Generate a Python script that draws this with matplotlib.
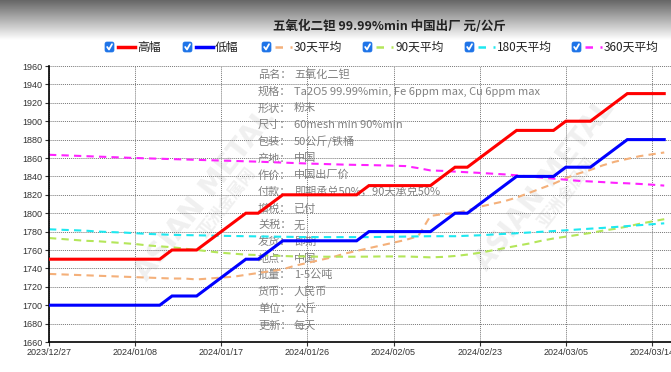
import numpy as np
import matplotlib
matplotlib.use("Agg")
import matplotlib.pyplot as plt
from matplotlib.patches import FancyBboxPatch

CJK = ["Noto Sans CJK SC", "DejaVu Sans"]

# x tick labels (every 7th point)
date_labels = ["2023/12/27", "2024/01/08", "2024/01/17", "2024/01/26",
               "2024/02/05", "2024/02/23", "2024/03/05", "2024/03/14"]

high = [1750, 1750, 1750, 1750, 1750, 1750, 1750, 1750, 1750, 1750,
        1760, 1760, 1760, 1770, 1780, 1790, 1800, 1800, 1810, 1820,
        1820, 1820, 1820, 1820, 1820, 1820, 1830, 1830, 1830, 1830,
        1830, 1830, 1840, 1850, 1850, 1860, 1870, 1880, 1890, 1890,
        1890, 1890, 1900, 1900, 1900, 1910, 1920, 1930, 1930, 1930, 1930]
low = [1700, 1700, 1700, 1700, 1700, 1700, 1700, 1700, 1700, 1700,
       1710, 1710, 1710, 1720, 1730, 1740, 1750, 1750, 1760, 1770,
       1770, 1770, 1770, 1770, 1770, 1770, 1780, 1780, 1780, 1780,
       1780, 1780, 1790, 1800, 1800, 1810, 1820, 1830, 1840, 1840,
       1840, 1840, 1850, 1850, 1850, 1860, 1870, 1880, 1880, 1880, 1880]
ma30 = [1734, 1733.5, 1733, 1732.5, 1732, 1731.5, 1731, 1730.5, 1730, 1729.5,
        1729, 1729, 1728, 1729, 1730, 1731, 1733, 1735, 1737, 1739,
        1743, 1746, 1749, 1752, 1756, 1759, 1762, 1765, 1768, 1771,
        1775, 1797, 1799, 1800, 1803, 1807, 1810, 1813, 1817, 1822,
        1827, 1832, 1838, 1843, 1847, 1852, 1856, 1859, 1862, 1864, 1866]
ma90 = [1773, 1772, 1771, 1770, 1769.5, 1768.5, 1767.5, 1766.5, 1765, 1764,
        1763, 1761.5, 1760, 1758.5, 1757, 1756, 1755, 1754.5, 1754, 1753.5,
        1753, 1753, 1752.7, 1752.7, 1752.7, 1752.7, 1752.8, 1753, 1753, 1753,
        1752.5, 1752, 1752.5, 1753.5, 1755, 1757, 1759.5, 1762, 1764.5, 1767,
        1770, 1772.5, 1774.5, 1776.5, 1778.5, 1781, 1783, 1785.5, 1788.5, 1791, 1793.5]
ma180 = [1782.5, 1782, 1781.5, 1781, 1780, 1779.5, 1779, 1778.3, 1777.5, 1777,
         1776.5, 1776.2, 1776, 1775.7, 1775.4, 1775.2, 1775, 1774.8, 1774.6, 1774.4,
         1774.2, 1774, 1774, 1774, 1774, 1774, 1774, 1774.2, 1774.4, 1774.6,
         1774.8, 1775, 1775, 1775, 1775.5, 1776, 1776.8, 1777.5, 1778.2, 1779,
         1779.8, 1780.6, 1781.4, 1782.3, 1783.2, 1784, 1785, 1786, 1787, 1788, 1789]
ma360 = [1863.5, 1863, 1862.5, 1862, 1861.5, 1861, 1860.5, 1860, 1859.6, 1859.2,
         1858.8, 1858.4, 1858, 1857.6, 1857.2, 1856.8, 1856.4, 1856, 1855.5, 1855,
         1854.5, 1854, 1853.6, 1853.2, 1852.8, 1852.5, 1852.3, 1852, 1851.6, 1851.2,
         1849, 1846.5, 1846, 1845.2, 1844.5, 1843.8, 1843, 1842.2, 1841.2, 1840,
         1838.8, 1837.6, 1836.4, 1835.2, 1834.5, 1833.8, 1833, 1832.5, 1831.8, 1831, 1830]

series = [
    ("高幅", high, "#ff0000", "-"),
    ("低幅", low, "#0000ff", "-"),
    ("30天平均", ma30, "#f4b07a", "--"),
    ("90天平均", ma90, "#b4e65a", "--"),
    ("180天平均", ma180, "#1ee8f0", "--"),
    ("360天平均", ma360, "#ff22ff", "--"),
]

info_keys = ["品名：", "规格：", "形状：", "尺寸：", "包装：", "产地：", "作价：", "付款：",
             "增税：", "关税：", "发货：", "地点：", "批量：", "货币：", "单位：", "更新："]
info_vals = ["五氧化二钽", "Ta2O5 99.99%min, Fe 6ppm max, Cu 6ppm max", "粉末",
             "60mesh min 90%min", "50公斤/铁桶", "中国", "中国出厂价",
             "即期承兑50%，90天承兑50%", "已付", "无", "即期", "中国", "1-5公吨",
             "人民币", "公斤", "每天"]

W, H = 671, 372
fig = plt.figure(figsize=(W / 100, H / 100), dpi=100)

# header gradient
bg = fig.add_axes([0, 0, 1, 1], zorder=-10)
bg.set_xlim(0, W)
bg.set_ylim(H, 0)
bg.axis("off")
grad = np.linspace(0.40, 1.0, 100).reshape(-1, 1)
bg.imshow(np.repeat(grad, 2, axis=1), cmap="gray", vmin=0, vmax=1,
          extent=[0, W, 40, 0], aspect="auto")

# watermark
for (wx, wy) in [(205, 195), (545, 185)]:
    bg.text(wx, wy, "ASIAN METAL", rotation=52, fontsize=20, fontweight="bold",
            color="#f0f0f0", ha="center", va="center", family="DejaVu Sans")
    bg.text(wx + 22, wy + 8, "亚洲金属网", rotation=52, fontsize=12, fontweight="bold",
            color="#f0f0f0", ha="center", va="center", family=CJK)

# info block
for k, (key, val) in enumerate(zip(info_keys, info_vals)):
    yy = 75 + k * 16.7
    bg.text(258, yy, key, fontsize=8, color="#808080", va="center", family=CJK)
    bg.text(294, yy, val, fontsize=8, color="#808080", va="center", family=CJK)

ax = fig.add_axes([49 / W, (H - 342) / H, (W - 49) / W, (342 - 66) / H])
ax.patch.set_alpha(0)
x = np.arange(len(high))
for name, vals, color, ls in series:
    if ls == "-":
        ax.plot(x, vals, color=color, lw=2.2, solid_joinstyle="miter", zorder=3)
    else:
        ax.plot(x, vals, color=color, lw=1.5, dashes=(3.5, 2.5), zorder=2)

ax.set_xlim(0, 50.55)
ax.set_ylim(1660, 1960)
ax.set_yticks(np.arange(1660, 1961, 20))
ax.set_xticks(np.arange(0, 7 * len(date_labels), 7))
ax.set_xticklabels(date_labels)
ax.grid(True, color="#777777", ls=(0, (1, 1)), lw=0.7)
ax.tick_params(labelsize=6.5, length=3, width=0.8, pad=1.5, colors="#333333")
for lab in ax.get_xticklabels() + ax.get_yticklabels():
    lab.set_family("Liberation Sans")
ax.spines["top"].set_visible(False)
ax.spines["right"].set_visible(False)
ax.spines["left"].set_linewidth(1.2)
ax.spines["bottom"].set_linewidth(1.2)

fig.text(389 / W, 1 - 26 / H, "五氧化二钽 99.99%min 中国出厂 元/公斤", ha="center",
         va="center", fontsize=9, fontweight="bold", family=CJK, color="#222222")

# legend with checkboxes
leg_x = [105, 183, 262, 363, 465, 572]
ly = 47
for (name, vals, color, ls), lx in zip(series, leg_x):
    bg.add_patch(FancyBboxPatch((lx, ly - 5), 9, 10, boxstyle="round,pad=0,rounding_size=2",
                                fc="#1e74e8", ec="#1e74e8", lw=0.5))
    bg.plot([lx + 2.2, lx + 4, lx + 7], [ly, ly + 2.5, ly - 2.8], color="white", lw=1.3,
            solid_capstyle="round")
    if ls == "-":
        bg.plot([lx + 13, lx + 30], [ly, ly], color=color, lw=2.5)
    else:
        bg.plot([lx + 13, lx + 30], [ly, ly], color=color, lw=1.8, dashes=(3, 3))
    bg.text(lx + 32, ly, name, fontsize=8.5, va="center", family=CJK, color="#222222")

fig.savefig("out.png", dpi=100)
